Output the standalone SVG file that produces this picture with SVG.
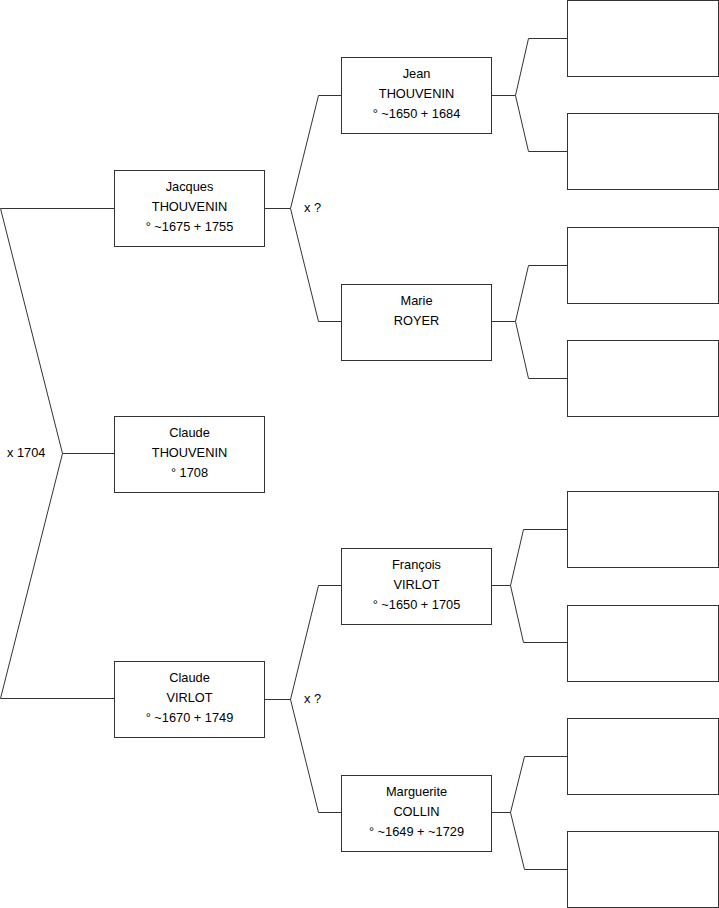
<svg xmlns="http://www.w3.org/2000/svg" width="719" height="908" viewBox="0 0 719 908">
<style>
rect{fill:#fff;stroke:#333;stroke-width:1}
.c{fill:none;stroke:#333;stroke-width:1}
text{font-family:"Liberation Sans",Arial,sans-serif;font-size:12.8px;fill:#000}
.m{text-anchor:middle}
</style>
<rect width="719" height="908" style="stroke:none"/>
<g id="connectors">
<polyline class="c" points="114,208.5 0.5,208.5 62.5,453.5 0.5,698.5 114,698.5"/>
<line class="c" x1="62.5" y1="453.5" x2="114" y2="453.5"/>
<polyline class="c" points="341,95.5 318.5,95.5 290.5,208.5 318.5,321.5 341,321.5"/>
<line class="c" x1="265" y1="208.5" x2="290.5" y2="208.5"/>
<polyline class="c" points="341,585.5 318.5,585.5 290.5,699.5 318.5,812.5 341,812.5"/>
<line class="c" x1="265" y1="699.5" x2="290.5" y2="699.5"/>
<polyline class="c" points="567,38.5 528.5,38.5 515.5,95.5 528.5,151.5 567,151.5"/>
<line class="c" x1="492" y1="95.5" x2="515.5" y2="95.5"/>
<polyline class="c" points="567,265.5 528.5,265.5 515.5,321.5 528.5,378.5 567,378.5"/>
<line class="c" x1="492" y1="321.5" x2="515.5" y2="321.5"/>
<polyline class="c" points="567,529.5 523.5,529.5 510.5,585.5 523.5,642.5 567,642.5"/>
<line class="c" x1="492" y1="585.5" x2="510.5" y2="585.5"/>
<polyline class="c" points="567,756.5 524.5,756.5 510.5,812.5 524.5,869.5 567,869.5"/>
<line class="c" x1="492" y1="812.5" x2="510.5" y2="812.5"/>
<text x="7" y="457">x 1704</text>
<text x="304" y="212">x ?</text>
<text x="304" y="703">x ?</text>
</g>
<g id="jacques"><rect x="114.5" y="170.5" width="150" height="76"/>
<text class="m" x="189.5" y="191">Jacques</text><text class="m" x="189.5" y="211">THOUVENIN</text><text class="m" x="189.5" y="231">° ~1675 + 1755</text></g>
<g id="claude_t"><rect x="114.5" y="416.5" width="150" height="76"/>
<text class="m" x="189.5" y="437">Claude</text><text class="m" x="189.5" y="457">THOUVENIN</text><text class="m" x="189.5" y="477">° 1708</text></g>
<g id="claude_v"><rect x="114.5" y="661.5" width="150" height="76"/>
<text class="m" x="189.5" y="682">Claude</text><text class="m" x="189.5" y="702">VIRLOT</text><text class="m" x="189.5" y="722">° ~1670 + 1749</text></g>
<g id="jean"><rect x="341.5" y="57.5" width="150" height="76"/>
<text class="m" x="416.5" y="78">Jean</text><text class="m" x="416.5" y="98">THOUVENIN</text><text class="m" x="416.5" y="118">° ~1650 + 1684</text></g>
<g id="marie"><rect x="341.5" y="284.5" width="150" height="76"/>
<text class="m" x="416.5" y="305">Marie</text><text class="m" x="416.5" y="325">ROYER</text></g>
<g id="francois"><rect x="341.5" y="548.5" width="150" height="76"/>
<text class="m" x="416.5" y="569">François</text><text class="m" x="416.5" y="589">VIRLOT</text><text class="m" x="416.5" y="609">° ~1650 + 1705</text></g>
<g id="marguerite"><rect x="341.5" y="775.5" width="150" height="76"/>
<text class="m" x="416.5" y="796">Marguerite</text><text class="m" x="416.5" y="816">COLLIN</text><text class="m" x="416.5" y="836">° ~1649 + ~1729</text></g>
<g id="g3a"><rect x="567.5" y="0.5" width="151" height="76"/></g>
<g id="g3b"><rect x="567.5" y="113.5" width="151" height="76"/></g>
<g id="g3c"><rect x="567.5" y="227.5" width="151" height="76"/></g>
<g id="g3d"><rect x="567.5" y="340.5" width="151" height="76"/></g>
<g id="g3e"><rect x="567.5" y="491.5" width="151" height="76"/></g>
<g id="g3f"><rect x="567.5" y="605.5" width="151" height="76"/></g>
<g id="g3g"><rect x="567.5" y="718.5" width="151" height="76"/></g>
<g id="g3h"><rect x="567.5" y="831.5" width="151" height="76"/></g>
</svg>
